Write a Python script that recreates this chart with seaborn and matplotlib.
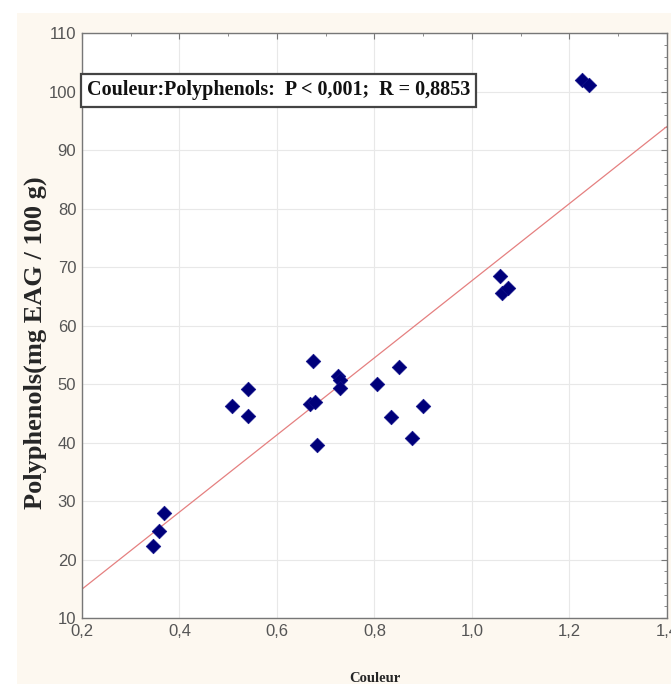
import matplotlib
matplotlib.use("Agg")
import matplotlib.pyplot as plt
import matplotlib.patches as mpatches
import seaborn as sns
import pandas as pd
import numpy as np
from matplotlib.ticker import FixedLocator, MultipleLocator

# ---- data ----
couleur = [0.345, 0.358, 0.368, 0.507, 0.540, 0.540, 0.675, 0.668, 0.678, 0.682,
           0.725, 0.730, 0.730, 0.805, 0.850, 0.835, 0.900, 0.878, 1.058, 1.062,
           1.073, 1.225, 1.240]
polyphenols = [22.3, 24.9, 27.9, 46.3, 49.2, 44.6, 54.0, 46.6, 47.0, 39.6,
               51.4, 50.7, 49.4, 50.0, 53.0, 44.4, 46.3, 40.8, 68.4, 65.6,
               66.4, 102.0, 101.2]
x_ticks = [0.2, 0.4, 0.6, 0.8, 1.0, 1.2, 1.4]
x_tick_labels = ["0,2", "0,4", "0,6", "0,8", "1,0", "1,2", "1,4"]
y_ticks = [10, 20, 30, 40, 50, 60, 70, 80, 90, 100, 110]
y_tick_labels = [str(v) for v in y_ticks]
annotation = "Couleur:Polyphenols:  P < 0,001;  R = 0,8853"
x_label = "Couleur"
y_label = "Polyphenols(mg EAG / 100 g)"

df = pd.DataFrame({"Couleur": couleur, "Polyphenols": polyphenols})

sns.set_style("white")
plt.rcParams["font.family"] = ["Liberation Sans Narrow", "Liberation Sans", "DejaVu Sans"]

fig = plt.figure(figsize=(6.71, 6.84), dpi=100)
fig.patch.set_facecolor("white")
# cream backdrop
fig.patches.append(mpatches.Rectangle((0.025, 0.0), 0.975, 0.981, transform=fig.transFigure,
                                      facecolor="#fdf8f0", edgecolor="none", zorder=-10))

ax = fig.add_axes([0.122, 0.0965, 0.872, 0.855])
ax.set_facecolor("white")
ax.set_xlim(0.2, 1.4)
ax.set_ylim(10, 110)

sns.regplot(data=df, x="Couleur", y="Polyphenols", ax=ax, ci=None, truncate=False,
            marker="D",
            scatter_kws=dict(color="#00007a", s=55, alpha=1, edgecolors="#10108a",
                             linewidths=0.5, zorder=3),
            line_kws=dict(color="#e58080", linewidth=0.9, zorder=2))

ax.xaxis.set_major_locator(FixedLocator(x_ticks))
ax.set_xticklabels(x_tick_labels)
ax.yaxis.set_major_locator(FixedLocator(y_ticks))
ax.set_yticklabels(y_tick_labels)
ax.xaxis.set_minor_locator(MultipleLocator(0.1))
ax.yaxis.set_minor_locator(MultipleLocator(2))
ax.grid(True, which="major", color="#e8e8e8", linewidth=0.8)
ax.set_axisbelow(True)
ax.tick_params(which="both", direction="in", top=True, right=True, color="#777777")
ax.tick_params(which="major", length=4, labelsize=12, labelcolor="#555555", pad=4)
ax.tick_params(which="minor", length=2)
for s in ax.spines.values():
    s.set_color("#777777")
    s.set_linewidth(1.0)

ax.set_xlabel(x_label, family="Liberation Serif", fontweight="bold", fontsize=10.5, labelpad=24)
ax.set_ylabel(y_label, family="Liberation Serif", fontweight="bold", fontsize=19)
ax.yaxis.set_label_coords(-0.06, 0.47)

ax.text(0.008, 0.902, annotation, transform=ax.transAxes, family="Liberation Serif",
        fontweight="bold", fontsize=14.5, va="center", ha="left", color="#111111",
        bbox=dict(boxstyle="square,pad=0.3", facecolor="white", edgecolor="#444444", linewidth=1.6))

fig.savefig("out.png", dpi=100)
